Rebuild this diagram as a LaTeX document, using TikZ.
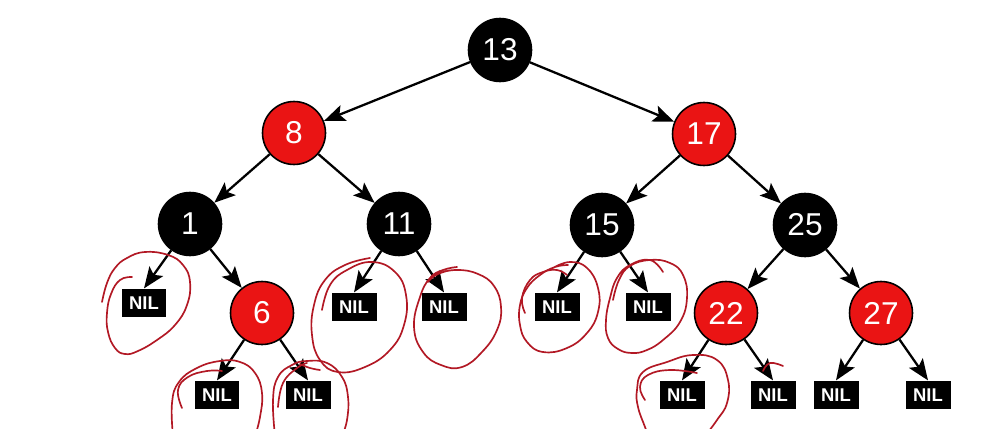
\documentclass[tikz,border=0pt]{standalone}
\usepackage{fontspec}
\setmainfont{Liberation Sans}
\usetikzlibrary{arrows.meta}
\definecolor{rbred}{RGB}{234,20,20}
\definecolor{inkred}{RGB}{178,24,36}
\begin{document}
\begin{tikzpicture}[x=0.02cm,y=-0.02cm,
  blacknode/.style={circle, fill=black, draw=black, line width=0.9pt,
    minimum size=1.26cm, inner sep=0pt, text=white,
    font=\fontsize{18}{18}\selectfont},
  rednode/.style={blacknode, fill=rbred},
  nilbox/.style={rectangle, fill=black, minimum width=0.9cm,
    minimum height=0.57cm, inner sep=0pt, text=white,
    font=\fontsize{10.5}{10.5}\selectfont\bfseries},
  link/.style={-{Stealth[length=12pt,width=9.5pt,inset=2.5pt]}, line width=1.3pt},
  ink/.style={draw=inkred, line width=0.95pt, line cap=round, line join=round},
  pen/.style={smooth, tension=0.75}
]
\useasboundingbox (0,0) rectangle (1000,429);
\clip (0,0) rectangle (1000,429);
\fill[white] (0,0) rectangle (1000,429);

% tree nodes
\node[blacknode] (n13) at (500,50)  {13};
\node[rednode]   (n8)  at (294,133) {8};
\node[rednode]   (n17) at (704,134) {17};
\node[blacknode] (n1)  at (190,224) {1};
\node[blacknode] (n11) at (399,224) {11};
\node[blacknode] (n15) at (602,225) {15};
\node[blacknode] (n25) at (805,225) {25};
\node[rednode]   (n6)  at (262,313) {6};
\node[rednode]   (n22) at (726,313) {22};
\node[rednode]   (n27) at (881,313) {27};

% leaves
\node[nilbox] (l1)   at (144,303) {NIL};
\node[nilbox] (l6a)  at (217,395) {NIL};
\node[nilbox] (l6b)  at (308,395) {NIL};
\node[nilbox] (l11a) at (354,307) {NIL};
\node[nilbox] (l11b) at (444,307) {NIL};
\node[nilbox] (l15a) at (557,307) {NIL};
\node[nilbox] (l15b) at (648,307) {NIL};
\node[nilbox] (l22a) at (682,395) {NIL};
\node[nilbox] (l22b) at (773,395) {NIL};
\node[nilbox] (l27a) at (836,395) {NIL};
\node[nilbox] (l27b) at (928,395) {NIL};

% child links
\draw[link] (n13) -- (n8);
\draw[link] (n13) -- (n17);
\draw[link] (n8) -- (n1);
\draw[link] (n8) -- (n11);
\draw[link] (n17) -- (n15);
\draw[link] (n17) -- (n25);
\draw[link] (n1) -- (l1.north);
\draw[link] (n1) -- (n6);
\draw[link] (n6) -- (l6a.north);
\draw[link] (n6) -- (l6b.north);
\draw[link] (n11) -- (l11a.north);
\draw[link] (n11) -- (l11b.north);
\draw[link] (n15) -- (l15a.north);
\draw[link] (n15) -- (l15b.north);
\draw[link] (n25) -- (n22);
\draw[link] (n25) -- (n27);
\draw[link] (n22) -- (l22a.north);
\draw[link] (n22) -- (l22b.north);
\draw[link] (n27) -- (l27a.north);
\draw[link] (n27) -- (l27b.north);

% hand-drawn pen loops around the leaves
\draw[ink] plot[pen] coordinates {(132,277) (120,280) (111,294) (107,313)
  (108,332) (115,348) (125,354) (138,351) (157,340) (175,325) (187,305)
  (190,282) (183,265) (168,255) (145,252) (127,258) (115,268) (107,283)
  (102,302)};
\draw[ink] plot[pen] coordinates {(173,436) (172,403) (179,382)
  (197,368) (220,361) (240,362) (255,373) (262,393) (260,417) (255,436)};
\draw[ink] plot[pen] coordinates {(182,408) (178,390) (188,377)
  (207,371) (222,371)};
\draw[ink] plot[pen] coordinates {(275,436) (273,400) (278,377)
  (292,365) (307,361) (327,363) (342,377) (348,397) (347,420) (342,436)};
\draw[ink] plot[pen] coordinates {(278,407) (283,383) (297,368) (307,363)};
\draw[ink] plot[pen] coordinates {(322,310) (330,285) (347,270)
  (372,262) (395,272) (406,295) (404,325) (390,350) (365,367) (338,372)
  (320,360) (312,335) (314,305) (325,280) (345,265) (370,258)};
\draw[ink] plot[pen] coordinates {(300,364) (310,368) (320,370)};
\draw[ink] plot[pen] coordinates {(457,267) (443,270) (430,278)
  (420,297) (414,327) (423,352) (441,365) (462,367) (482,352) (497,330)
  (501,307) (494,286) (478,274) (457,270) (438,274) (428,282)};
\draw[ink] plot[pen] coordinates {(525,313) (522,298) (530,280)
  (543,272) (557,270) (567,275)};
\draw[ink] plot[pen] coordinates {(553,268) (570,262) (587,268) (598,288)
  (598,312) (587,333) (567,348) (543,352) (527,342) (520,325) (520,305)
  (527,288) (540,275) (555,267) (568,265)};
\draw[ink] plot[pen] coordinates {(663,272) (650,260) (630,265) (617,278)
  (610,298) (606,320) (608,338) (618,349) (632,353) (647,350) (663,340)
  (680,322) (687,298) (683,275) (670,263) (650,260) (630,266) (619,280)
  (613,300)};
\draw[ink] plot[pen] coordinates {(650,440) (645,427) (638,407)
  (637,390) (643,372) (667,362) (693,355) (717,360) (728,380) (727,403)
  (717,420) (705,436)};
\draw[ink] plot[pen] coordinates {(645,400) (640,387) (648,375)
  (670,370) (697,373)};
\draw[ink] plot[pen] coordinates {(763,371) (770,363) (783,366)};
\end{tikzpicture}
\end{document}
